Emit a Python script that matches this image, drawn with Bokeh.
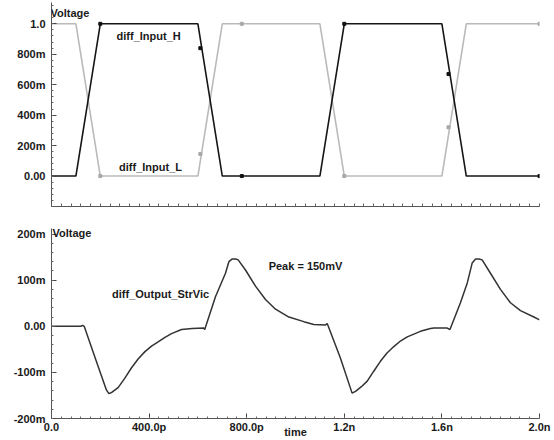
from bokeh.plotting import figure
from bokeh.layouts import column
from bokeh.models import Label, SingleIntervalTicker, FixedTicker, Range1d
from bokeh.embed import file_html
from bokeh.resources import INLINE

# ---------------- data (time in ps, voltage in mV) ----------------
t_in = [0, 100, 200, 600, 700, 1100, 1200, 1600, 1700, 2000]
v_in_h = [0, 0, 1000, 1000, 0, 0, 1000, 1000, 0, 0]
v_in_l = [1000, 1000, 0, 0, 1000, 1000, 0, 0, 1000, 1000]

mk_h_t = [200, 610, 780, 1200, 1627, 2000]
mk_h_v = [1000, 840, 0, 1000, 670, 0]
mk_l_t = [200, 610, 780, 1200, 1627, 2000]
mk_l_v = [0, 145, 1000, 0, 320, 1000]

t_out = [0, 120, 128, 134, 178, 225, 235, 248, 273, 300, 328, 355, 383, 410,
         437, 465, 492, 533, 577, 624, 628, 672, 713, 727, 741, 755, 765, 795,
         836, 877, 918, 973, 1034, 1075, 1123, 1130, 1184, 1232, 1246, 1270,
         1294, 1320, 1348, 1375, 1403, 1430, 1458, 1512, 1553, 1567, 1622, 1633,
         1676, 1704, 1724, 1738, 1752, 1765, 1799, 1840, 1881, 1922, 1977, 2000]
v_out = [0, 0, 2, 0, -67, -138, -146, -143, -133, -113, -90, -71, -55, -43,
         -34, -24, -16, -7, -5, -4, -7, 64, 115, 140, 146, 146, 144, 122,
         87, 58, 37, 20, 10, 4, 3, 6, -69, -145, -141, -131,
         -119, -98, -76, -58, -44, -32, -23, -11, -5, -4, -4, -7,
         51, 94, 137, 146, 146, 144, 115, 80, 51, 34, 20, 14]

x_ticks = [0, 400, 800, 1200, 1600, 2000]
x_labels = ["0.0", "400.0p", "800.0p", "1.2n", "1.6n", "2.0n"]
top_ticks = [0, 200, 400, 600, 800, 1000]
top_labels = ["0.00", "200m", "400m", "600m", "800m", "1.0"]
bot_ticks = [-200, -100, 0, 100, 200]
bot_labels = ["-200m", "-100m", "0.00", "100m", "200m"]

FONT = "Liberation Sans"
TXT = "#1a1a1a"


def style_axes(p):
    for ax in (p.xaxis[0], p.yaxis[0]):
        ax.axis_line_color = "#555555"
        ax.axis_line_width = 1
        ax.major_tick_in = 5
        ax.major_tick_out = 0
        ax.minor_tick_in = 2
        ax.minor_tick_out = 0
        ax.major_tick_line_color = "#444444"
        ax.minor_tick_line_color = "#666666"
        ax.major_label_text_font = FONT
        ax.major_label_text_font_style = "bold"
        ax.major_label_text_font_size = "11px"
        ax.major_label_text_color = TXT
    p.yaxis[0].major_label_standoff = 6
    p.xaxis[0].major_label_standoff = 2
    p.grid.visible = False
    p.outline_line_color = None
    p.background_fill_color = "white"
    p.border_fill_color = "white"


def lab(p, x, y, text, align="center", baseline="middle", xo=0, yo=0):
    p.add_layout(Label(x=x, y=y, text=text, text_font=FONT, text_font_style="bold",
                       text_font_size="11px", text_color=TXT, text_align=align,
                       text_baseline=baseline, x_offset=xo, y_offset=yo))


# ---------------- top figure ----------------
p1 = figure(width=554, height=216, output_backend="svg", toolbar_location=None,
            x_range=Range1d(0, 2000), y_range=Range1d(-200, 1140),
            min_border_left=51, min_border_right=15, min_border_top=2,
            min_border_bottom=10)
style_axes(p1)
p1.xaxis[0].ticker = FixedTicker(ticks=[], minor_ticks=list(range(0, 2001, 40)))
p1.xaxis[0].minor_tick_in = 3
p1.yaxis[0].ticker = FixedTicker(ticks=top_ticks, minor_ticks=list(range(-200, 1141, 40)))
p1.yaxis[0].major_label_overrides = dict(zip(top_ticks, top_labels))

p1.line(t_in, v_in_l, line_color="#bababa", line_width=1.6)
p1.line(t_in, v_in_h, line_color="#161616", line_width=1.6)
p1.scatter(mk_l_t, mk_l_v, marker="square", size=3, color="#a8a8a8")
p1.scatter(mk_h_t, mk_h_v, marker="square", size=3, color="#111111")

lab(p1, 0, 1074, "Voltage", align="left", xo=-1)
lab(p1, 398, 920, "diff_Input_H")
lab(p1, 406, 59, "diff_Input_L")

# ---------------- bottom figure ----------------
p2 = figure(width=554, height=224, output_backend="svg", toolbar_location=None,
            x_range=Range1d(0, 2000), y_range=Range1d(-200, 212),
            min_border_left=51, min_border_right=15, min_border_top=12,
            min_border_bottom=19)
style_axes(p2)
p2.xaxis[0].ticker = SingleIntervalTicker(interval=400, num_minor_ticks=10)
p2.xaxis[0].major_label_overrides = dict(zip(x_ticks, x_labels))
p2.xaxis[0].axis_label = "time"
p2.xaxis[0].axis_label_text_font = FONT
p2.xaxis[0].axis_label_text_font_style = "bold"
p2.xaxis[0].axis_label_text_font_size = "11px"
p2.xaxis[0].axis_label_text_color = TXT
p2.xaxis[0].axis_label_standoff = -10
p2.yaxis[0].ticker = FixedTicker(ticks=bot_ticks, minor_ticks=list(range(-200, 201, 20)))
p2.yaxis[0].major_label_overrides = dict(zip(bot_ticks, bot_labels))

p2.line(t_out, v_out, line_color="#333333", line_width=1.5)

lab(p2, 4, 203, "Voltage", align="left")
lab(p2, 447, 69, "diff_Output_StrVic")
lab(p2, 1041, 131, "Peak = 150mV")

layout = column(p1, p2)
open("out.html", "w").write(file_html(layout, INLINE))
